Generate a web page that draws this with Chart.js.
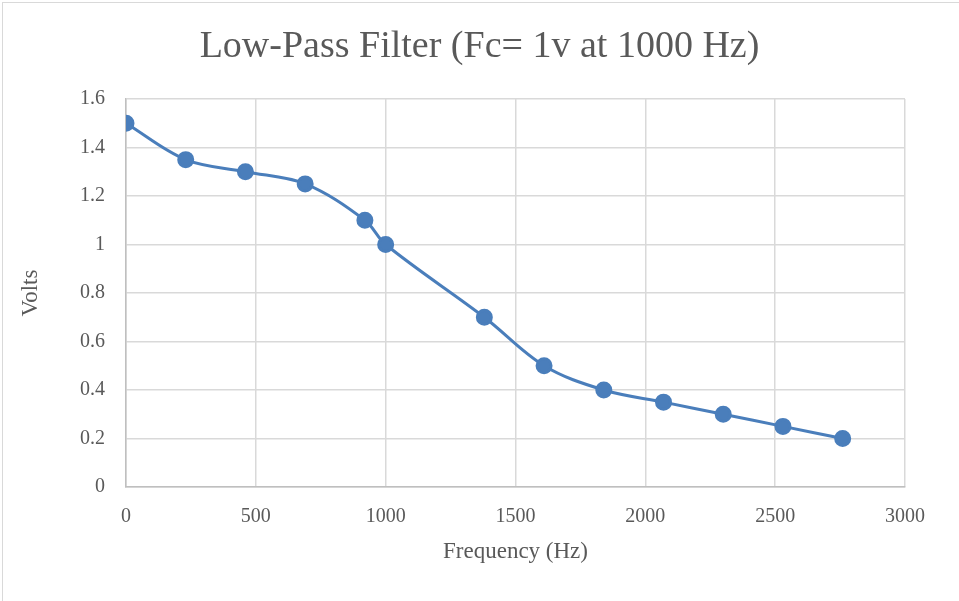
<!DOCTYPE html>
<html>
<head>
<meta charset="utf-8">
<script src="https://cdn.jsdelivr.net/npm/chart.js@4"></script>
<style>
  body { margin: 0; background: #fff; }
  #wrap { position: relative; width: 959px; height: 601px; }
  #frame { position: absolute; left: 2px; top: 2px; width: 960px; height: 700px;
           border: 1px solid #d9d9d9; box-sizing: border-box; pointer-events: none; }
</style>
</head>
<body>
<div id="wrap">
  <canvas id="myChart" width="959" height="601"></canvas>
  <div id="frame"></div>
</div>
<script>
// frequency (Hz) and output volts
var freq = [0, 230, 460, 690, 920, 1000, 1380, 1610, 1840, 2070, 2300, 2530, 2760];
var volts = [1.5, 1.35, 1.3, 1.25, 1.1, 1.0, 0.7, 0.5, 0.4, 0.35, 0.3, 0.25, 0.2];

var points = freq.map(function (f, i) { return { x: f, y: volts[i] }; });

var serif = "'Liberation Serif', 'DejaVu Serif', serif";
var grey = '#595959';

var ctx = document.getElementById('myChart').getContext('2d');
var chart = new Chart(ctx, {
    type: 'scatter',
    data: {
        datasets: [{
            data: points,
            showLine: true,
            borderColor: '#4a7ebb',
            backgroundColor: '#4a7ebb',
            borderWidth: 3,
            pointRadius: 7,
            pointHoverRadius: 7,
            tension: 0.35
        }]
    },
    options: {
        responsive: false,
        animation: false,
        layout: { padding: 0 },
        plugins: {
            legend: { display: false },
            tooltip: { enabled: false },
            title: {
                display: true,
                text: 'Low-Pass Filter (Fc= 1v at 1000 Hz)',
                color: grey,
                font: { family: serif, size: 38, weight: 'normal' },
                padding: { top: 24, bottom: 29.4 }
            }
        },
        scales: {
            x: {
                type: 'linear',
                min: 0,
                max: 3000,
                ticks: { stepSize: 500, color: grey, padding: 18,
                         font: { family: serif, size: 20 },
                         callback: function (v) { return String(v); } },
                grid: { color: '#d9d9d9', lineWidth: 1.5, drawTicks: false },
                border: { color: '#bfbfbf', width: 1.5 },
                title: { display: true, text: 'Frequency (Hz)', color: grey,
                         font: { family: serif, size: 23 }, padding: { bottom: 35 } },
                afterFit: function (s) { s.height = 114; }
            },
            y: {
                min: 0,
                max: 1.6,
                ticks: { stepSize: 0.2, color: grey, padding: 21,
                         font: { family: serif, size: 20 },
                         callback: function (v) { return String(Math.round(v * 10) / 10); } },
                grid: { color: '#d9d9d9', lineWidth: 1.5, drawTicks: false },
                border: { color: '#bfbfbf', width: 1.5 },
                title: { display: true, text: 'Volts', color: grey,
                         font: { family: serif, size: 23 }, padding: { top: 17 } },
                afterFit: function (s) { s.width = 126; }
            },
            // empty right-hand axis, only to keep the plot's right margin
            yr: {
                position: 'right',
                min: 0,
                max: 1.6,
                ticks: { display: false },
                grid: { display: false, drawOnChartArea: false },
                border: { display: false },
                afterFit: function (s) { s.width = 54; }
            }
        }
    }
});
</script>
</body>
</html>
